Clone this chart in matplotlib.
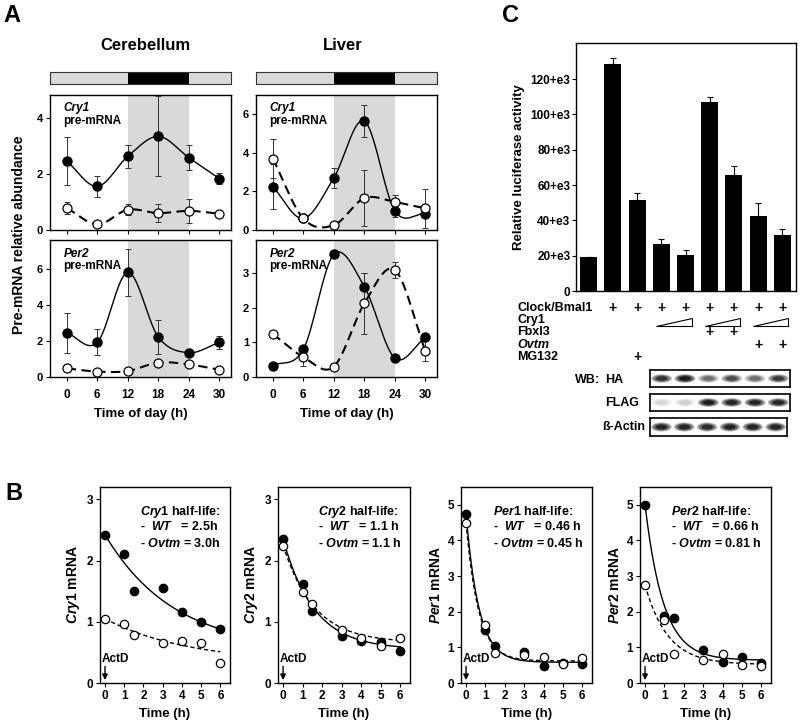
import numpy as np
import matplotlib
matplotlib.use("Agg")
import matplotlib.pyplot as plt
from matplotlib.patches import Rectangle, Ellipse, Polygon
from matplotlib.transforms import blended_transform_factory

plt.rcParams['font.family'] = ['Liberation Sans', 'DejaVu Sans']
plt.rcParams['font.weight'] = 'bold'
plt.rcParams['axes.labelweight'] = 'bold'
plt.rcParams['mathtext.fontset'] = 'custom'
plt.rcParams['mathtext.it'] = 'Liberation Sans:italic:bold'
plt.rcParams['mathtext.rm'] = 'Liberation Sans:bold'
plt.rcParams['mathtext.bf'] = 'Liberation Sans:bold'

# ---- panel A data (time of day, h) ----
t_a = [0, 6, 12, 18, 24, 30]
cb_cry1_wt = [2.45, 1.55, 2.62, 3.33, 2.57, 1.83]
cb_cry1_wt_err = [0.85, 0.37, 0.42, 1.42, 0.45, 0.2]
cb_cry1_ov = [0.78, 0.20, 0.72, 0.60, 0.68, 0.58]
cb_cry1_ov_err = [0.22, 0.05, 0.2, 0.33, 0.42, 0.05]
cb_per2_wt = [2.45, 1.92, 5.80, 2.22, 1.35, 1.92]
cb_per2_wt_err = [1.1, 0.72, 1.3, 0.92, 0.1, 0.35]
cb_per2_ov = [0.48, 0.30, 0.33, 0.80, 0.70, 0.40]
cb_per2_ov_err = [0.08, 0.05, 0.05, 0.1, 0.05, 0.05]
lv_cry1_wt = [2.25, 0.60, 2.70, 5.65, 1.00, 0.85]
lv_cry1_wt_err = [1.15, 0.1, 0.5, 0.85, 0.35, 0.1]
lv_cry1_ov = [3.70, 0.60, 0.25, 1.65, 1.45, 1.12]
lv_cry1_ov_err = [1.0, 0.05, 0.05, 1.45, 0.35, 1.0]
lv_per2_wt = [0.33, 0.80, 3.55, 2.62, 0.55, 1.15]
lv_per2_wt_err = [0.03, 0.05, 0.1, 0.4, 0.03, 0.1]
lv_per2_ov = [1.25, 0.58, 0.30, 2.13, 3.10, 0.76]
lv_per2_ov_err = [0.05, 0.25, 0.05, 0.87, 0.22, 0.3]

# ---- panel B data (time after ActD, h) ----
t_b = [0, 1, 1.5, 3, 4, 5, 6]
cry1_wt = [2.42, 2.10, 1.50, 1.55, 1.16, 1.00, 0.88]
cry1_ov = [1.04, 0.97, 0.79, 0.66, 0.69, 0.66, 0.33]
cry2_wt = [2.35, 1.62, 1.17, 0.77, 0.69, 0.67, 0.53]
cry2_ov = [2.23, 1.49, 1.29, 0.87, 0.73, 0.60, 0.73]
per1_wt = [4.75, 1.50, 1.04, 0.88, 0.49, 0.55, 0.53]
per1_ov = [4.50, 1.62, 0.84, 0.79, 0.72, 0.54, 0.70]
per2_wt = [5.00, 1.87, 1.82, 0.92, 0.58, 0.74, 0.55]
per2_ov = [2.76, 1.78, 0.80, 0.64, 0.80, 0.51, 0.47]
# fitted one-phase decay: (start, plateau, half-life)
fit_wt = [(2.42, 0.52, 2.5), (2.35, 0.55, 1.1), (4.75, 0.58, 0.46), (5.0, 0.64, 0.66)]
fit_ov = [(1.05, 0.33, 3.0), (2.25, 0.66, 1.1), (4.5, 0.62, 0.45), (2.75, 0.52, 0.81)]
hl_wt = ['2.5h', '1.1 h', '0.46 h', '0.66 h']
hl_ov = ['3.0h', '1.1 h', '0.45 h', '0.81 h']
genes_b = ['Cry1', 'Cry2', 'Per1', 'Per2']

# ---- panel C data ----
luc = [19000, 128800, 51500, 26400, 20400, 106800, 65800, 42600, 32000]
luc_err = [300, 3200, 4000, 3000, 2600, 3000, 5000, 7200, 3000]
luc_ticks = [0, 20000, 40000, 60000, 80000, 100000, 120000]
luc_ticklabels = ['0', '20+e3', '40+e3', '60+e3', '80+e3', '100+e3', '120+e3']
clock_bmal = [0, 1, 1, 1, 1, 1, 1, 1, 1]
fbxl3 = [0, 0, 0, 0, 0, 1, 1, 0, 0]
ovtm = [0, 0, 0, 0, 0, 0, 0, 1, 1]
mg132 = [0, 0, 1, 0, 0, 0, 0, 0, 0]
cry1_wedges = [(3, 4), (5, 6), (7, 8)]
blot_ha = [0.75, 0.95, 0.45, 0.6, 0.45, 0.7]
blot_flag = [0.1, 0.12, 0.9, 0.85, 0.85, 0.85]
blot_actin = [0.85, 0.85, 0.8, 0.85, 0.85, 0.85]

W, H = 800, 722
fig = plt.figure(figsize=(8, 7.22), dpi=100)


def px_axes(l, t, r, b):
    return fig.add_axes([l / W, 1 - b / H, (r - l) / W, (b - t) / H])


def ftext(x, y, s, **kw):
    return fig.text(x / W, 1 - y / H, s, **kw)


def smooth(x, y, num=300):
    # Catmull-Rom style cubic Hermite curve through the points
    x = np.asarray(x, float)
    y = np.asarray(y, float)
    n = len(x)
    m = np.zeros(n)
    m[1:-1] = (y[2:] - y[:-2]) / (x[2:] - x[:-2])
    m[0] = (y[1] - y[0]) / (x[1] - x[0])
    m[-1] = (y[-1] - y[-2]) / (x[-1] - x[-2])
    xs = np.linspace(x[0], x[-1], num)
    idx = np.clip(np.searchsorted(x, xs) - 1, 0, n - 2)
    h = x[idx + 1] - x[idx]
    s = (xs - x[idx]) / h
    h00 = 2 * s ** 3 - 3 * s ** 2 + 1
    h10 = s ** 3 - 2 * s ** 2 + s
    h01 = -2 * s ** 3 + 3 * s ** 2
    h11 = s ** 3 - s ** 2
    ys = h00 * y[idx] + h10 * h * m[idx] + h01 * y[idx + 1] + h11 * h * m[idx + 1]
    return xs, ys


XL_A = (-3.3, 32.3)


def panel_a(ax, wt, wt_err, ov, ov_err, ylim, yticks, gene, bottom):
    ax.axvspan(12, 24, color='#d9d9d9', lw=0, zorder=0)
    xs, ys = smooth(t_a, wt)
    ax.plot(xs, ys, color='k', lw=1.0, zorder=2)
    xs, ys = smooth(t_a, ov)
    ax.plot(xs, ys, color='k', lw=1.5, dashes=(4.5, 2.6), zorder=2)
    ax.errorbar(t_a, wt, yerr=wt_err, fmt='none', ecolor='#333333', elinewidth=0.7, capsize=2, capthick=0.7, zorder=3)
    ax.errorbar(t_a, ov, yerr=ov_err, fmt='none', ecolor='#333333', elinewidth=0.7, capsize=2, capthick=0.7, zorder=3)
    ax.plot(t_a, wt, 'o', mfc='k', mec='k', ms=6.5, zorder=5)
    ax.plot(t_a, ov, 'o', mfc='w', mec='k', mew=0.9, ms=6.5, zorder=6)
    ax.set_xlim(*XL_A)
    ax.set_ylim(*ylim)
    ax.set_xticks(t_a)
    ax.set_yticks(yticks)
    ax.tick_params(direction='out', length=3, width=0.8, labelsize=8, pad=2)
    if bottom:
        ax.tick_params(axis='x', labelsize=8.5, pad=6)
        ax.set_xlabel('Time of day (h)', fontsize=9.5, labelpad=5)
    else:
        ax.tick_params(axis='x', labelbottom=False)
    for s in ax.spines.values():
        s.set_linewidth(1.0)
    ax.text(0.075, 0.9, gene, transform=ax.transAxes, fontsize=8.5, style='italic', va='center')
    ax.text(0.075, 0.81, 'pre-mRNA', transform=ax.transAxes, fontsize=8.5, va='center')


def ld_bar(l, r):
    ax = px_axes(l, 72, r, 84)
    ax.set_xlim(*XL_A)
    ax.set_ylim(0, 1)
    ax.add_patch(Rectangle((XL_A[0], 0), XL_A[1] - XL_A[0], 1, fc='#d9d9d9', ec='none'))
    ax.add_patch(Rectangle((12, 0), 12, 1, fc='k', ec='none'))
    ax.set_xticks([])
    ax.set_yticks([])
    for s in ax.spines.values():
        s.set_linewidth(0.8)
        s.set_color('#333333')


# panel A
ftext(3, 15, 'A', fontsize=17, va='center')
ftext(145, 45, 'Cerebellum', fontsize=12, ha='center', va='center')
ftext(343, 45, 'Liver', fontsize=12, ha='center', va='center')
ld_bar(50, 231)
ld_bar(256, 437)
ax = px_axes(50, 95, 231, 230)
panel_a(ax, cb_cry1_wt, cb_cry1_wt_err, cb_cry1_ov, cb_cry1_ov_err, (0, 4.8), [0, 2, 4], 'Cry1', False)
ax = px_axes(50, 240, 231, 377)
panel_a(ax, cb_per2_wt, cb_per2_wt_err, cb_per2_ov, cb_per2_ov_err, (0, 7.6), [0, 2, 4, 6], 'Per2', True)
ax = px_axes(256, 95, 437, 230)
panel_a(ax, lv_cry1_wt, lv_cry1_wt_err, lv_cry1_ov, lv_cry1_ov_err, (0, 7.0), [0, 2, 4, 6], 'Cry1', False)
ax = px_axes(256, 240, 437, 377)
panel_a(ax, lv_per2_wt, lv_per2_wt_err, lv_per2_ov, lv_per2_ov_err, (0, 3.97), [0, 1, 2, 3], 'Per2', True)
ftext(19, 235, 'Pre-mRNA relative abundance', fontsize=10, rotation=90, ha='center', va='center')

# panel C
ftext(502, 16, 'C', fontsize=17, va='center')
axc = px_axes(576, 43, 796, 291)
xb = np.arange(len(luc))
axc.bar(xb, luc, width=0.7, color='k', zorder=2)
axc.errorbar(xb, luc, yerr=[np.zeros(len(luc)), luc_err], fmt='none', ecolor='k',
             elinewidth=0.8, capsize=2, capthick=0.8, zorder=1)
axc.set_xlim(-0.52, 8.56)
axc.set_ylim(0, 140500)
axc.set_xticks([])
axc.set_yticks(luc_ticks)
axc.set_yticklabels(luc_ticklabels)
axc.tick_params(axis='y', direction='out', length=3, width=0.8, labelsize=8.5, pad=1)
for s in axc.spines.values():
    s.set_linewidth(1.0)
axc.set_ylabel('Relative luciferase activity', fontsize=9.5, labelpad=4)

tr = blended_transform_factory(axc.transData, fig.transFigure)
rows = [('Clock/Bmal1', 308, clock_bmal, 'normal'), ('Cry1', 320, None, 'normal'),
        ('Fbxl3', 332, fbxl3, 'normal'), ('Ovtm', 345, ovtm, 'italic'), ('MG132', 357, mg132, 'normal')]
for label, y, marks, st in rows:
    ftext(517, y, label, fontsize=9, va='center', style=st)
    if marks is None:
        continue
    for i, m in enumerate(marks):
        if m:
            axc.text(i, 1 - y / H, '+', transform=tr, fontsize=10, ha='center', va='center', clip_on=False)
for i, j in cry1_wedges:
    yb, yt = 1 - 326 / H, 1 - 318 / H
    axc.add_patch(Polygon([(i - 0.2, yb), (j + 0.25, yb), (j + 0.25, yt)], closed=True,
                          fc='white', ec='k', lw=0.8, transform=tr, clip_on=False))


def blot(l, t, r, b, vals):
    ax = px_axes(l, t, r, b)
    ax.set_xlim(0, len(vals))
    ax.set_ylim(0, 1)
    for i, v in enumerate(vals):
        for sc, al in [(1.0, 0.35), (0.8, 0.5), (0.55, 0.75)]:
            ax.add_patch(Ellipse((i + 0.5, 0.5), 0.9 * sc, 0.5 * sc, fc='k', ec='none', alpha=al * v))
    ax.set_xticks([])
    ax.set_yticks([])
    for s in ax.spines.values():
        s.set_linewidth(1.2)


blot(650, 370, 790, 387, blot_ha)
blot(650, 394, 790, 411, blot_flag)
blot(650, 418, 787, 436, blot_actin)
ftext(575, 380, 'WB:', fontsize=9, va='center')
ftext(605, 380, 'HA', fontsize=9, va='center')
ftext(605, 403, 'FLAG', fontsize=9, va='center')
ftext(602, 427, 'ß-Actin', fontsize=9, va='center')

# panel B
ftext(5, 494, 'B', fontsize=17, va='center')
b_left = [100, 278, 461, 640]
b_width = [130, 132, 131, 131]
b_ylim = [3.2, 3.2, 5.5, 5.5]
b_yticks = [[0, 1, 2, 3], [0, 1, 2, 3], [0, 1, 2, 3, 4, 5], [0, 1, 2, 3, 4, 5]]
b_textx = [0.31, 0.305, 0.242, 0.234]
b_wt = [cry1_wt, cry2_wt, per1_wt, per2_wt]
b_ov = [cry1_ov, cry2_ov, per1_ov, per2_ov]
tt = np.linspace(0, 6, 200)
for k in range(4):
    ax = px_axes(b_left[k], 487, b_left[k] + b_width[k], 683)
    y0, p, hl = fit_wt[k]
    ax.plot(tt, p + (y0 - p) * 0.5 ** (tt / hl), color='k', lw=1.0, zorder=2)
    y0, p, hl = fit_ov[k]
    ax.plot(tt, p + (y0 - p) * 0.5 ** (tt / hl), color='k', lw=1.0, dashes=(3, 2), zorder=2)
    ax.plot(t_b, b_wt[k], 'o', mfc='k', mec='k', ms=6, zorder=4)
    ax.plot(t_b, b_ov[k], 'o', mfc='w', mec='k', mew=0.9, ms=6, zorder=5)
    ax.set_xlim(-0.26, 6.5)
    ax.set_ylim(0, b_ylim[k])
    ax.set_xticks(range(7))
    ax.set_yticks(b_yticks[k])
    ax.tick_params(direction='out', length=3, width=0.8, labelsize=8.5, pad=2)
    for s in ax.spines.values():
        s.set_linewidth(1.0)
    ax.set_xlabel('Time (h)', fontsize=9.5, labelpad=4)
    g = genes_b[k]
    ax.set_ylabel(r'$\mathit{' + g + '}$ mRNA', fontsize=10, labelpad=3)
    tx = b_textx[k]
    ax.text(tx, 0.874, r'$\mathit{' + g + '}$ half-life:', transform=ax.transAxes, fontsize=9, va='center')
    ax.text(tx, 0.796, r'-  $\mathit{WT}$   = ' + hl_wt[k], transform=ax.transAxes, fontsize=9, va='center')
    ax.text(tx, 0.714, r'- $\mathit{Ovtm}$ = ' + hl_ov[k], transform=ax.transAxes, fontsize=9, va='center')
    ax.text(0.013, 0.125, 'ActD', transform=ax.transAxes, fontsize=8.5, va='center')
    ax.annotate('', xy=(0, 0.015), xytext=(0, 0.085), xycoords=('data', 'axes fraction'),
                arrowprops=dict(arrowstyle='-|>', color='k', lw=1.0, mutation_scale=8,
                                shrinkA=0, shrinkB=0))

fig.savefig('out.png', dpi=100)
